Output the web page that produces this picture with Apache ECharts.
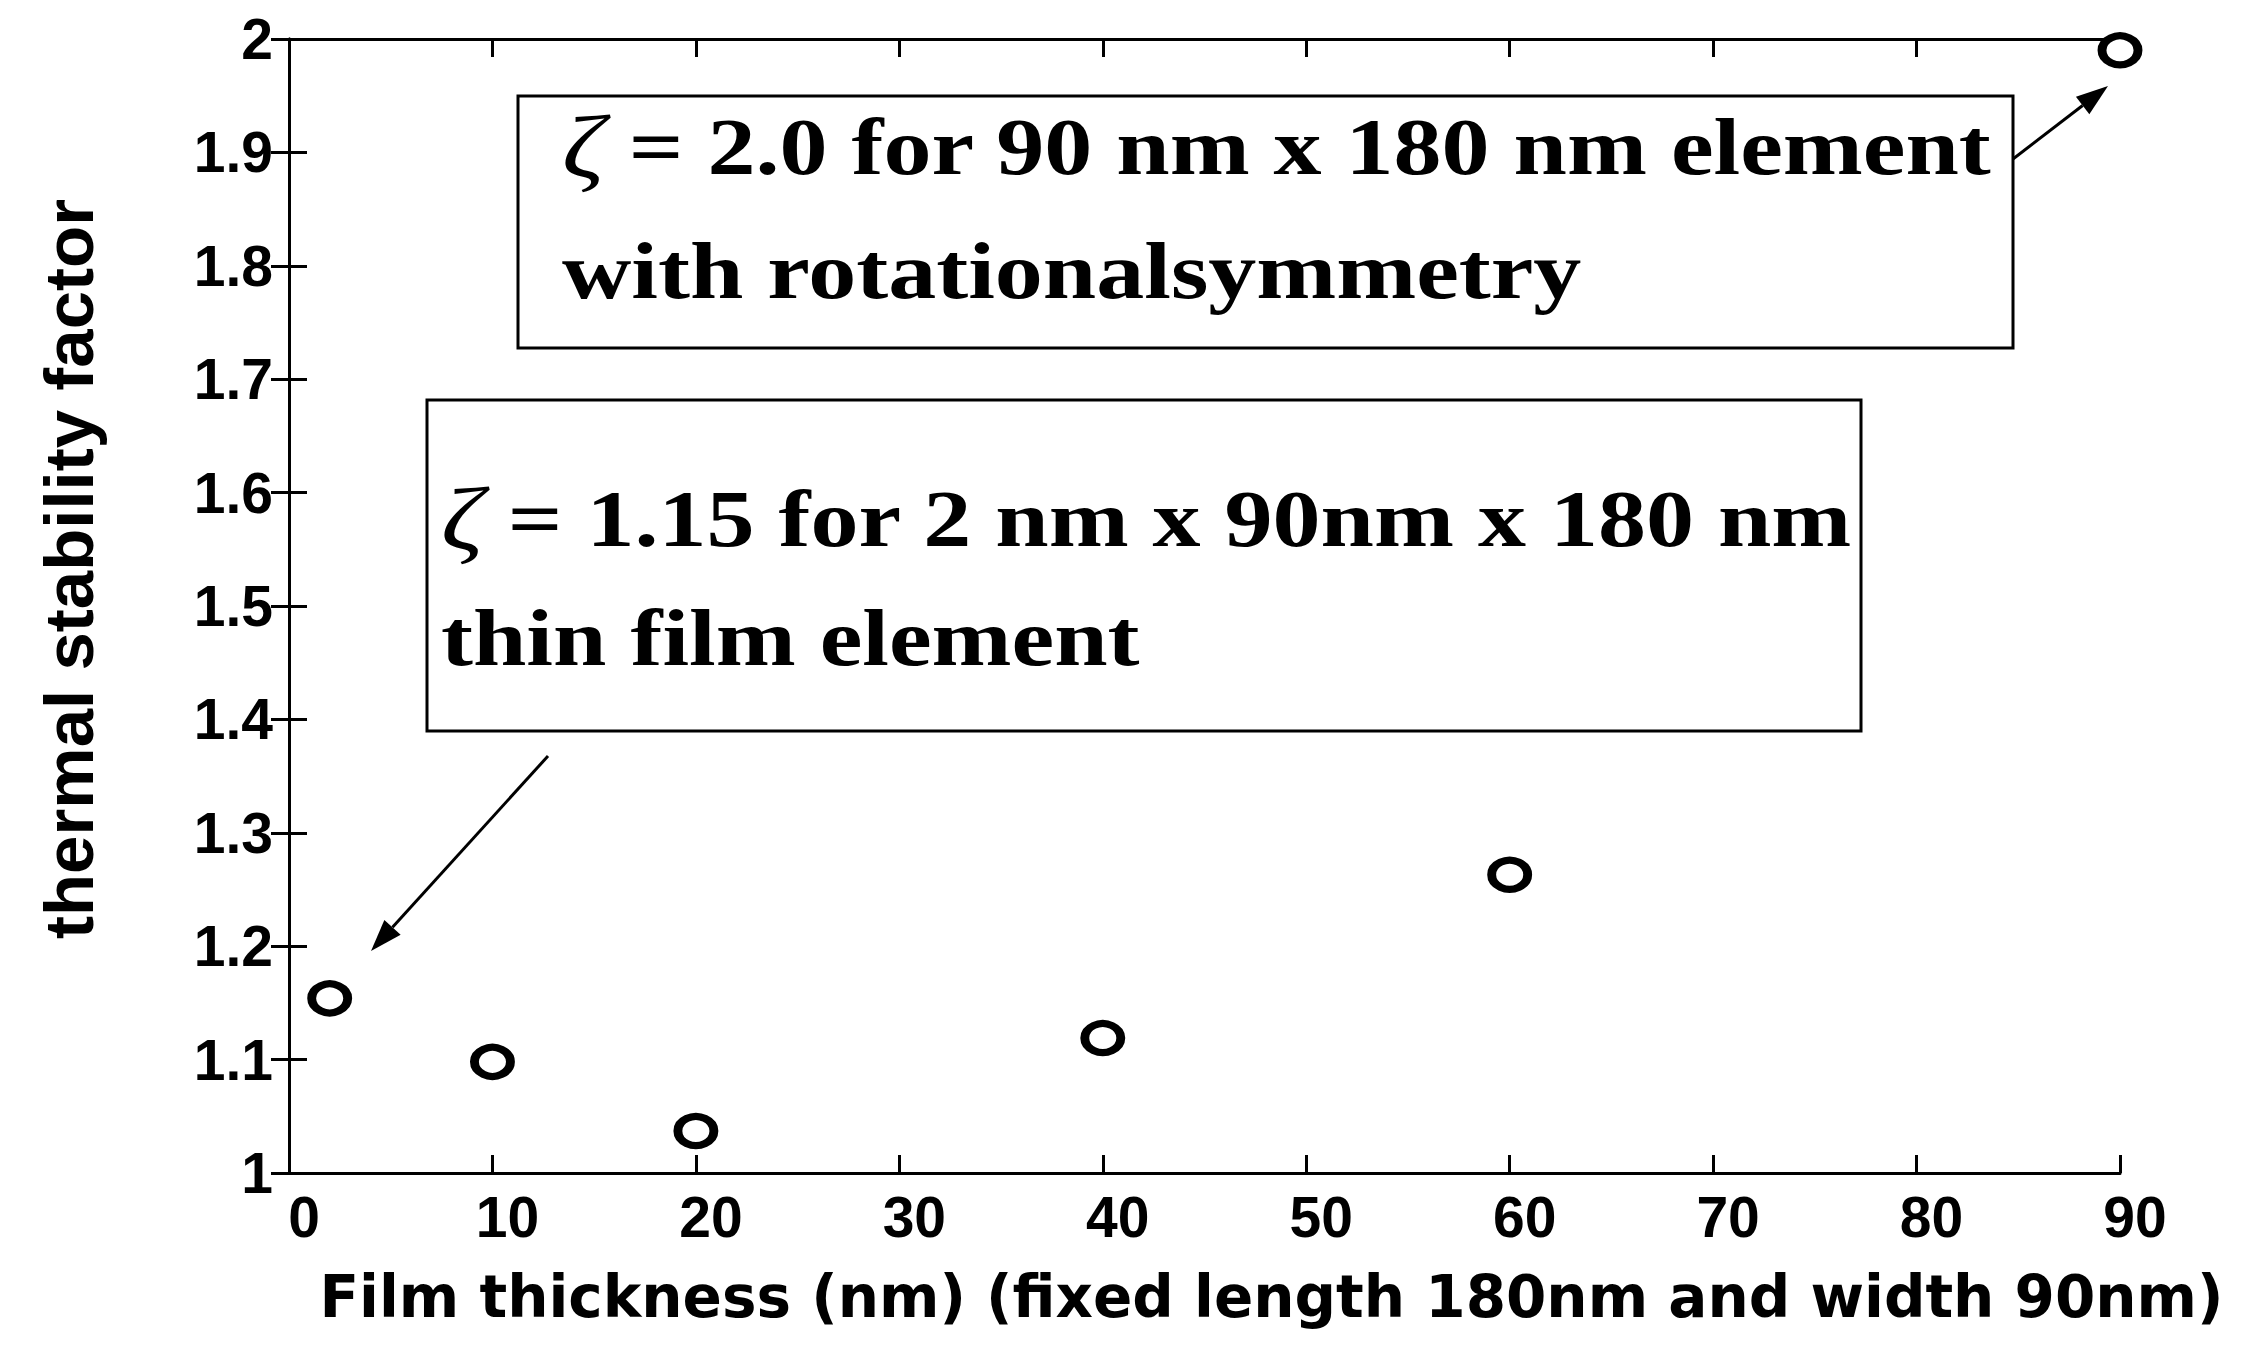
<!DOCTYPE html>
<html lang="en">
<head>
    <meta charset="UTF-8">
    <title>Thermal stability factor vs film thickness</title>
    <script src="https://cdn.jsdelivr.net/npm/echarts@6.0.0/dist/echarts.min.js"></script>
    <style>
        html, body { margin: 0; padding: 0; background: #fff; }
    </style>
</head>
<body>
    <div id="main" style="width: 2248px;height:1346px;"></div>
    <script type="text/javascript">
        // data
        const thickness = [2, 10, 20, 40, 60, 90];
        const stability = [1.154, 1.098, 1.037, 1.119, 1.263, 1.99];

        const xMin = 0, xMax = 90, xStep = 10;
        const yMin = 1, yMax = 2, yStep = 0.1;

        const xName = 'Film thickness (nm) (fixed length 180nm and width 90nm)';
        const yName = 'thermal stability factor';

        const note1 = ['{z|ζ} = 2.0 for 90 nm x 180 nm element', 'with rotationalsymmetry'];
        const note2 = ['{z|ζ} = 1.15 for 2 nm x 90nm x 180 nm', 'thin film element'];

        const myChart = echarts.init(document.getElementById('main'), null, { renderer: 'svg' });

        const tickFont = { fontFamily: 'Liberation Sans', fontWeight: 'bold', fontSize: 57, color: '#000' };
        const noteScale = 1.2;

        function noteText(x, y, text) {
            return {
                type: 'text', x: x, y: y, scaleX: noteScale, z: 10,
                style: {
                    text: text,
                    fontFamily: 'Liberation Serif', fontWeight: 'bold', fontSize: 80,
                    fill: '#000', verticalAlign: 'middle', align: 'left',
                    rich: {
                        z: { fontFamily: 'Liberation Serif', fontStyle: 'italic', fontSize: 88, fill: '#000' }
                    }
                }
            };
        }

        // annotation arrow: line plus filled head
        function arrow(x1, y1, x2, y2) {
            const dx = x2 - x1, dy = y2 - y1, len = Math.hypot(dx, dy);
            const ux = dx / len, uy = dy / len;
            const hl = 32, hw = 11;
            const bx = x2 - ux * hl, by = y2 - uy * hl;
            return [
                { type: 'line', z: 10, shape: { x1: x1, y1: y1, x2: bx, y2: by }, style: { stroke: '#000', lineWidth: 3 } },
                { type: 'polygon', z: 10, shape: { points: [[x2, y2], [bx - uy * hw, by + ux * hw], [bx + uy * hw, by - ux * hw]] }, style: { fill: '#000' } }
            ];
        }

        const option = {
            backgroundColor: '#fff',
            animation: false,
            grid: { left: 289, right: 128, top: 39, bottom: 173, containLabel: false, outerBoundsMode: 'none' },
            xAxis: [{
                type: 'value', min: xMin, max: xMax, interval: xStep,
                name: xName, nameLocation: 'middle', nameGap: 95,
                nameTextStyle: { fontFamily: 'DejaVu Sans', fontWeight: 'bold', fontSize: 58, color: '#000', padding: [0, 0, 0, 134] },
                axisLine: { show: true, lineStyle: { color: '#000', width: 3 } },
                axisTick: { show: true, inside: true, length: 18, lineStyle: { color: '#000', width: 3 } },
                axisLabel: Object.assign({ margin: 15, padding: [0, 0, 0, 30] }, tickFont),
                splitLine: { show: false }
            }, {
                type: 'value', position: 'top', min: xMin, max: xMax, interval: xStep,
                axisLine: { show: true, lineStyle: { color: '#000', width: 3 } },
                axisTick: { show: true, inside: true, length: 18, lineStyle: { color: '#000', width: 3 } },
                axisLabel: { show: false },
                splitLine: { show: false }
            }],
            yAxis: [{
                type: 'value', min: yMin, max: yMax, interval: yStep,
                name: yName, nameLocation: 'middle', nameGap: 185,
                nameTextStyle: { fontFamily: 'Liberation Sans', fontWeight: 'bold', fontSize: 69, color: '#000', padding: [0, 0, 0, 74] },
                axisLine: { show: true, lineStyle: { color: '#000', width: 3 } },
                axisTick: { show: true, inside: true, length: 18, lineStyle: { color: '#000', width: 3 } },
                axisLabel: Object.assign({ margin: 16 }, tickFont),
                splitLine: { show: false }
            }, {
                type: 'value', position: 'right', min: yMin, max: yMax, interval: yStep,
                axisLine: { show: true, lineStyle: { color: '#000', width: 3 } },
                axisTick: { show: true, inside: true, length: 18, lineStyle: { color: '#000', width: 3 } },
                axisLabel: { show: false },
                splitLine: { show: false }
            }],
            series: [{
                name: 'thermal stability factor',
                type: 'scatter',
                data: thickness.map((t, i) => [t, stability[i]]),
                symbol: 'circle',
                symbolSize: [36, 29],
                clip: false,
                itemStyle: { color: '#fff', borderColor: '#000', borderWidth: 8, opacity: 1 },
                z: 5
            }],
            graphic: [
                { type: 'rect', z: 9, shape: { x: 518, y: 96, width: 1495, height: 252 }, style: { fill: '#fff', stroke: '#000', lineWidth: 3 } },
                noteText(562, 147, note1[0]),
                noteText(562, 271, note1[1]),
                { type: 'rect', z: 9, shape: { x: 427, y: 400, width: 1434, height: 331 }, style: { fill: '#fff', stroke: '#000', lineWidth: 3 } },
                noteText(441, 519, note2[0]),
                noteText(441, 638, note2[1])
            ].concat(arrow(2013, 159, 2108, 86), arrow(548, 756, 371, 951))
        };

        myChart.setOption(option);
    </script>
</body>
</html>
